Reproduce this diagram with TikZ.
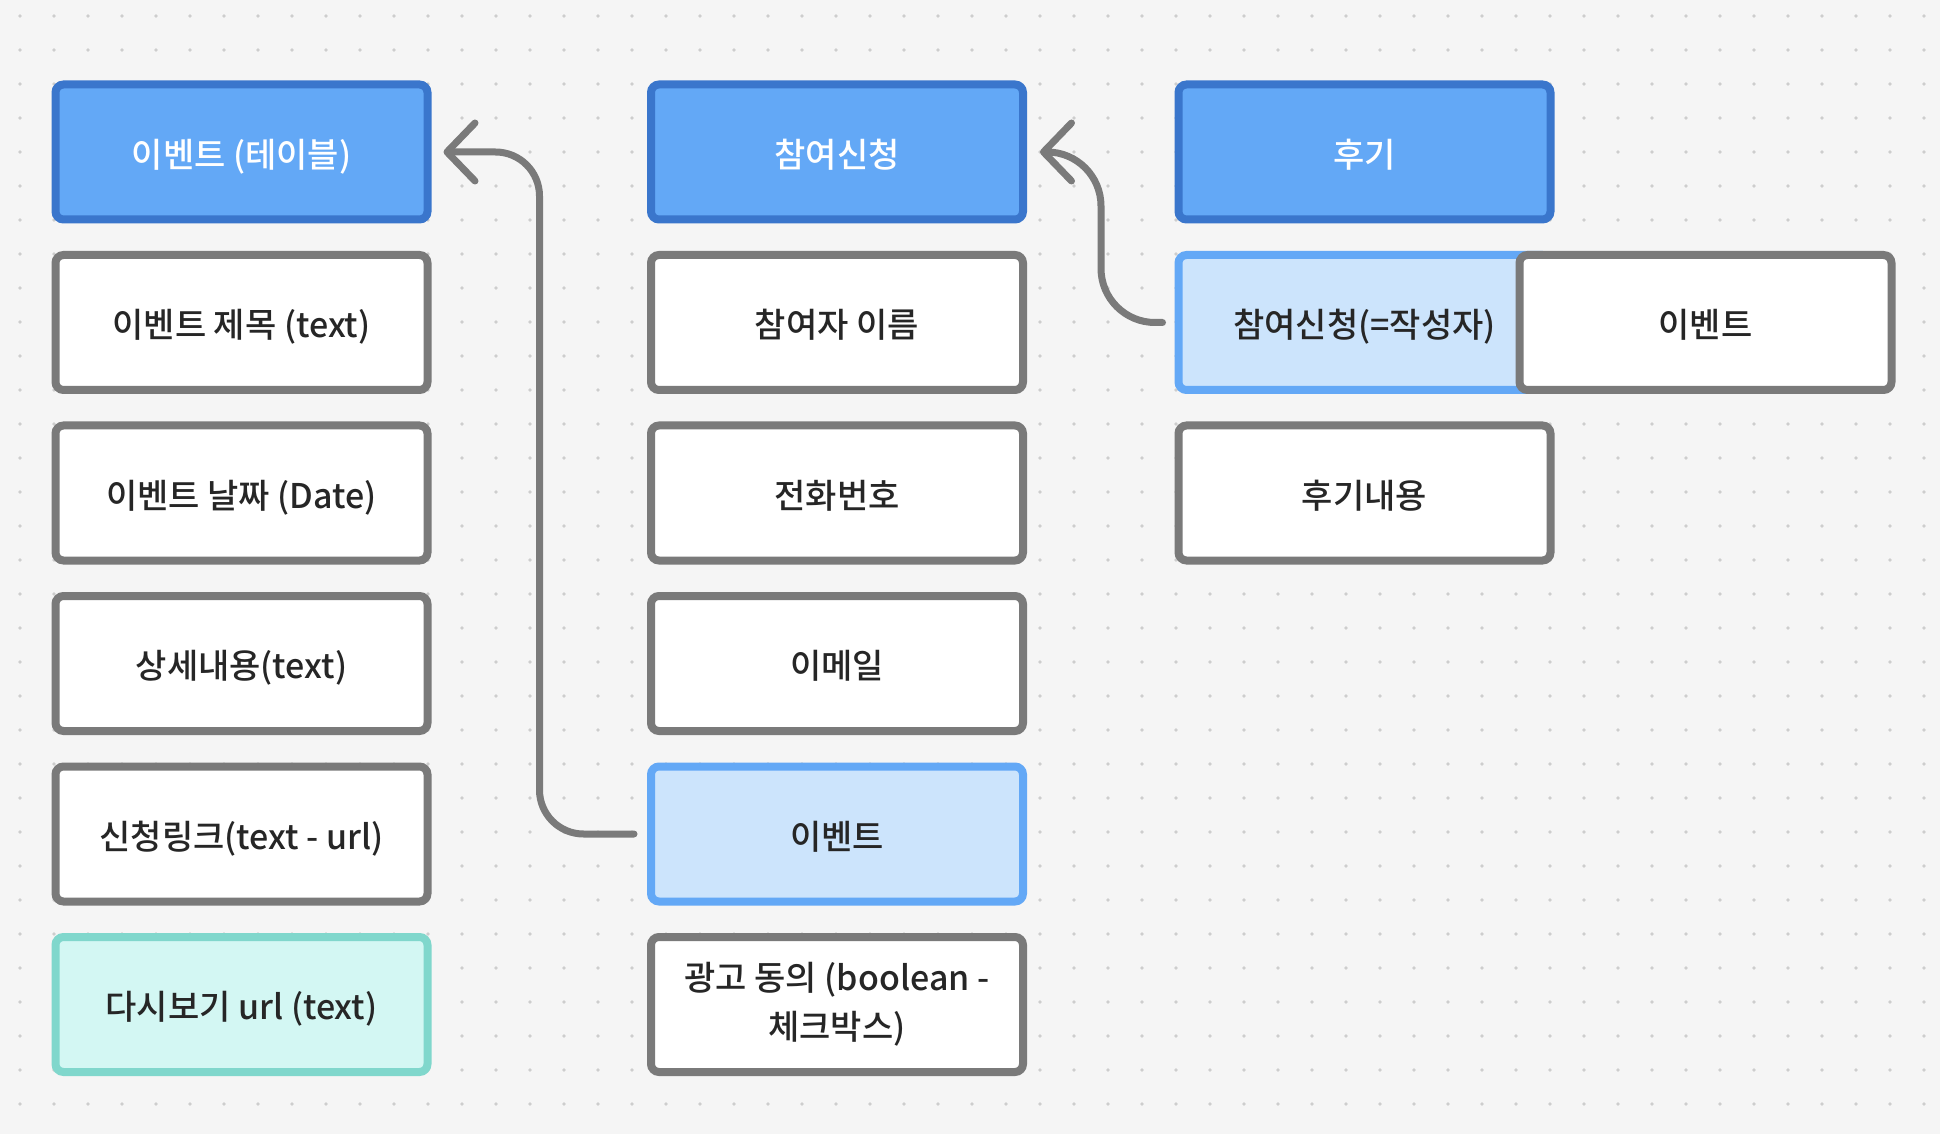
\documentclass[tikz,border=0pt]{standalone}
\usepackage{fontspec}
\setmainfont{Noto Sans CJK KR}[UprightFont={* Medium}]
\usetikzlibrary{arrows.meta}
\definecolor{bgc}{HTML}{F5F5F5}
\definecolor{dotc}{HTML}{CDCDCD}
\definecolor{hdrfill}{HTML}{63A8F6}
\definecolor{hdrline}{HTML}{3A76CC}
\definecolor{lbfill}{HTML}{CCE4FC}
\definecolor{lbline}{HTML}{63A8F6}
\definecolor{grayline}{HTML}{7A7A7A}
\definecolor{tealfill}{HTML}{D3F7F3}
\definecolor{tealline}{HTML}{80D7CC}
\definecolor{txt}{HTML}{262626}
\begin{document}
\begin{tikzpicture}[x=0.5pt,y=-0.5pt,
  box/.style={rounded corners=4pt, line width=4pt, minimum width=186pt, minimum height=67.5pt,
    inner sep=0pt, font=\fontsize{17}{24.5}\selectfont, text=txt, align=center,
    text height=16pt, text depth=0.8pt},
  hdr/.style={box, fill=hdrfill, draw=hdrline, text=white},
  fld/.style={box, fill=white, draw=grayline},
  refbox/.style={box, fill=lbfill, draw=lbline},
  tealbox/.style={box, fill=tealfill, draw=tealline},
  twoline/.style={text height={}, text depth={}},
  conn/.style={draw=grayline, line width=3.5pt, line cap=round, line join=round,
    -{Straight Barb[length=14pt,width=29pt,round]}}
]
\useasboundingbox (0,0) rectangle (1940,1134);
\fill[bgc] (0,0) rectangle (1940,1134);
\foreach \i in {0,...,56}{
  \foreach \j in {0,...,32}{
    \fill[dotc] ({20+34*\i},{16+34*\j}) circle (0.9pt);
  }
}
% column 1
\node[hdr] (evt) at (241.5,152) {이벤트 (테이블)};
\node[fld] (e1) at (241.5,322.5) {이벤트 제목 (text)};
\node[fld] (e2) at (241.5,493) {이벤트 날짜 (Date)};
\node[fld] (e3) at (241.5,663.5) {상세내용(text)};
\node[fld] (e4) at (241.5,834) {신청링크(text - url)};
\node[tealbox] (e5) at (241.5,1004.5) {다시보기 url (text)};
% column 2
\node[hdr] (ap) at (837,152) {참여신청};
\node[fld] (a1) at (837,322.5) {참여자 이름};
\node[fld] (a2) at (837,493) {전화번호};
\node[fld] (a3) at (837,663.5) {이메일};
\node[refbox] (aev) at (837,834) {이벤트};
\node[fld, twoline] (a5) at (837,1004.5) {광고 동의 (boolean -\\체크박스)};
% column 3
\node[hdr] (rv) at (1364.5,152) {후기};
\node[refbox] (rap) at (1364.5,322.5) {참여신청(=작성자)};
\node[fld] (rev) at (1705.5,322.5) {이벤트};
\node[fld] (r2) at (1364.5,493) {후기내용};
% connectors
\draw[conn, rounded corners=22pt] ([xshift=-6.5pt]aev.west) -| ([xshift=54pt]evt.east) -- ([xshift=6pt]evt.east);
\draw[conn, rounded corners=27pt] ([xshift=-6pt]rap.west) -| ([xshift=37pt]ap.east) -- ([xshift=6.5pt]ap.east);
\end{tikzpicture}
\end{document}
